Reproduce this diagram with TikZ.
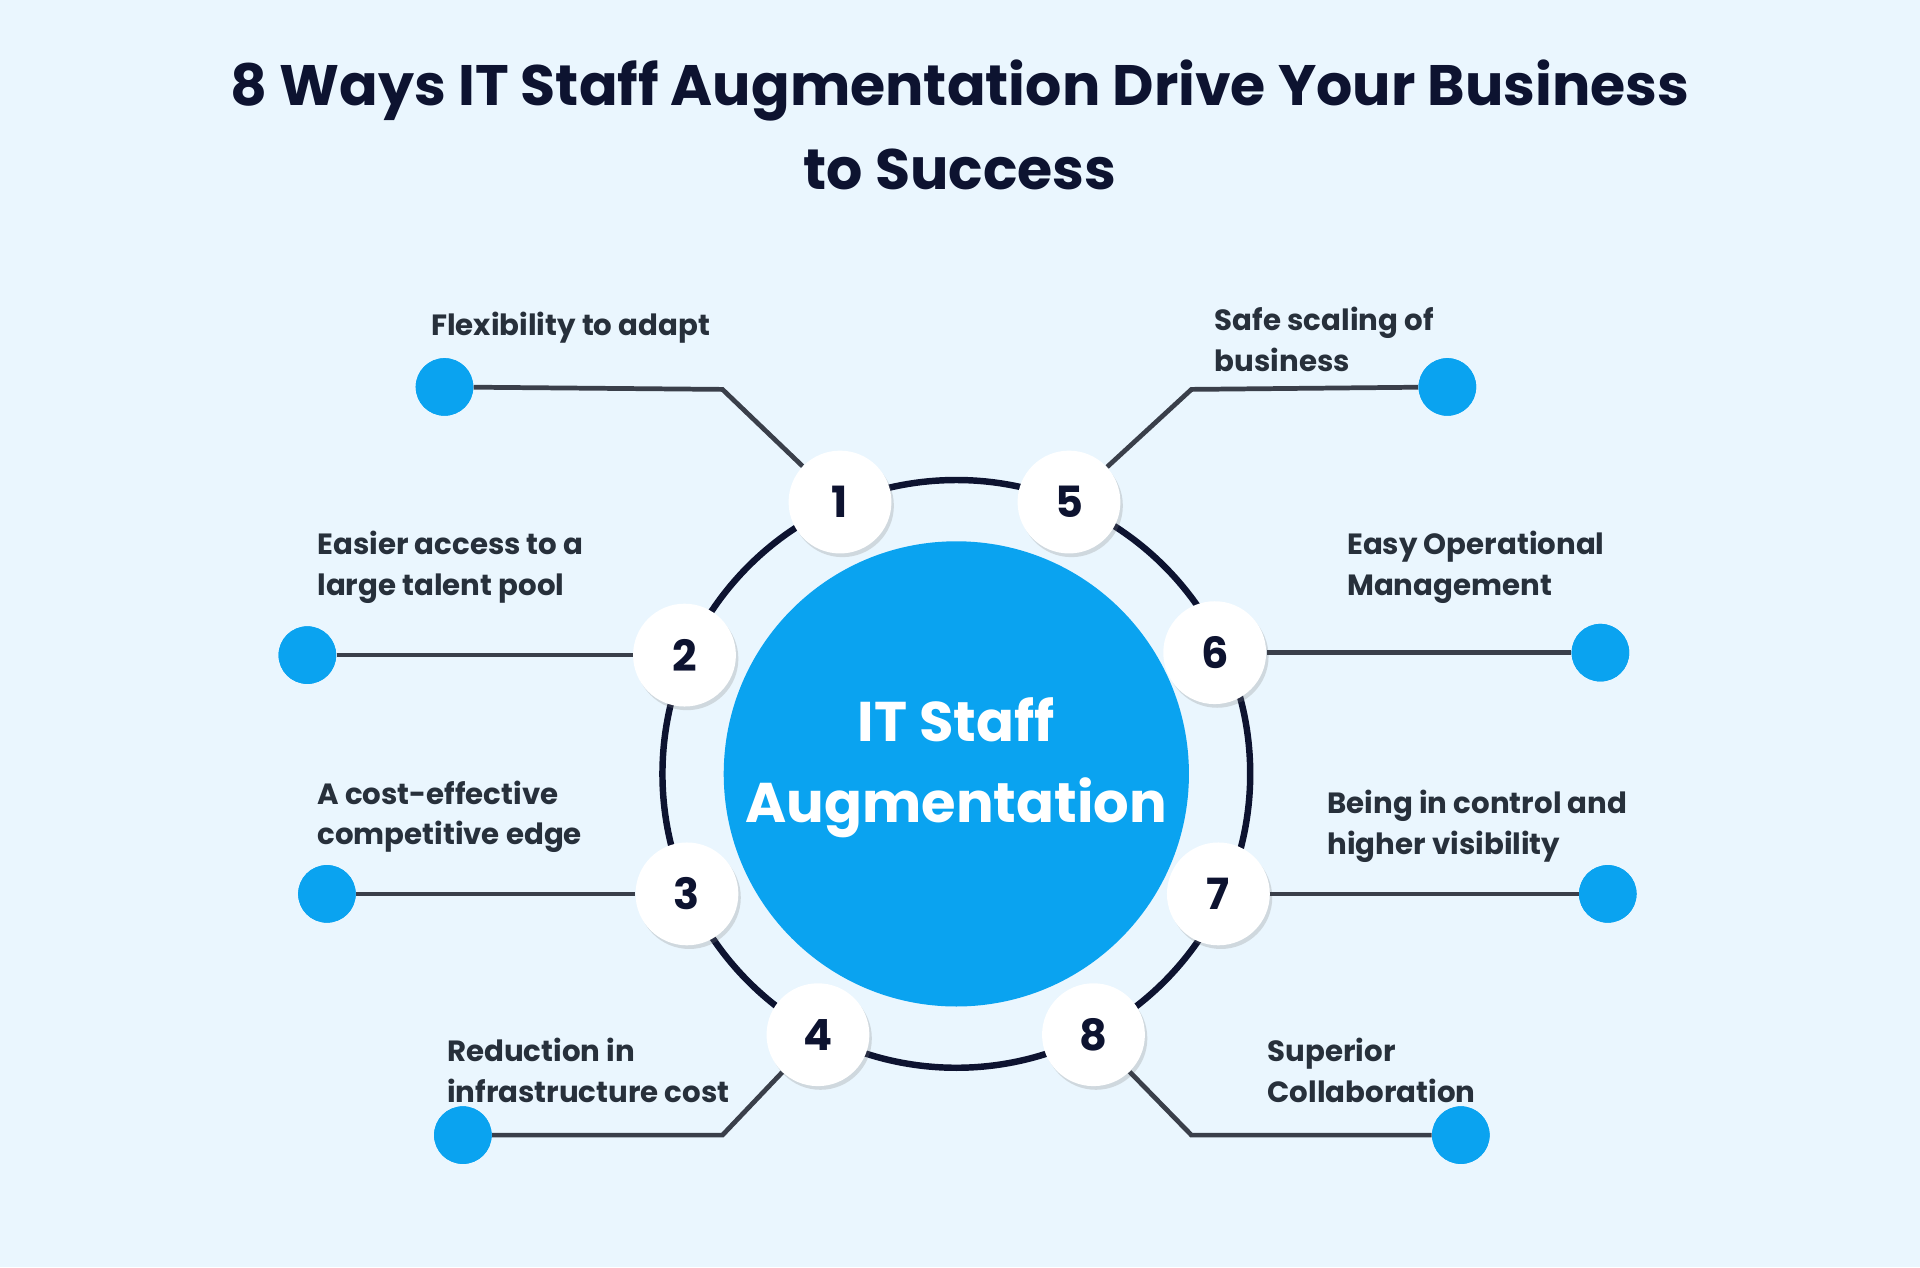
\documentclass[tikz,border=0pt]{standalone}
\usepackage{fontspec}
\setmainfont{Poppins}
\usetikzlibrary{shadows}
\definecolor{bg}{HTML}{EAF6FE}
\definecolor{blue}{HTML}{0AA3F0}
\definecolor{ink}{HTML}{0D1330}
\definecolor{ln}{HTML}{3A3F4A}
\definecolor{txt}{HTML}{27303B}
\tikzset{
  num/.style={circle,fill=white,minimum size=1.68cm,inner sep=0,font=\fontsize{20}{20}\selectfont\bfseries,text=ink,drop shadow={opacity=0.25,shadow xshift=0.04cm,shadow yshift=-0.06cm}},
  dot/.style={circle,fill=blue,minimum size=0.94cm,inner sep=0},
  conn/.style={draw=ln,line width=2.2pt},
  lbl/.style={anchor=west,align=left,font=\fontsize{13.6}{19}\selectfont\bfseries,text=txt}
}
\begin{document}
\begin{tikzpicture}[x=0.02cm,y=-0.02cm]
\fill[bg] (0,0) rectangle (1568,1035);
\useasboundingbox (0,0) rectangle (1568,1035);
\node[font=\fontsize{26.5}{39}\selectfont\bfseries,text=ink,align=center] (title) at (784,102) {8 Ways IT Staff Augmentation Drive Your Business\\to Success};
\draw[line width=3pt,ink] (781,632) circle (240);
\node[circle,fill=blue,minimum size=7.6cm,inner sep=0] (c) at (781,632) {};
\node[align=center,text=white,font=\fontsize{26}{38}\selectfont\bfseries] (ct) at (781,627) {IT Staff\\Augmentation};
\node[dot] (d1) at (363,316) {};
\node[dot] (d5) at (1182,316) {};
\node[dot] (d2) at (251,535) {};
\node[dot] (d6) at (1307,533) {};
\node[dot] (d3) at (267,730) {};
\node[dot] (d7) at (1313,730) {};
\node[dot] (d4) at (378,927) {};
\node[dot] (d8) at (1193,927) {};
\coordinate (k1) at (590,318);
\coordinate (k5) at (973,318);
\coordinate (k4) at (590,927);
\coordinate (k8) at (973,927);
\node[num] (n1) at (686,410) {1};
\node[num] (n5) at (873,410) {5};
\node[num] (n2) at (559,535) {2};
\node[num] (n6) at (992,533) {6};
\node[num] (n3) at (561,730) {3};
\node[num] (n7) at (995,730) {7};
\node[num] (n4) at (668,845) {4};
\node[num] (n8) at (893,845) {8};
\draw[conn] (d1) -- (k1) -- (n1);
\draw[conn] (d5) -- (k5) -- (n5);
\draw[conn] (d2) -- (n2);
\draw[conn] (d6) -- (n6);
\draw[conn] (d3) -- (n3);
\draw[conn] (d7) -- (n7);
\draw[conn] (d4) -- (k4) -- (n4);
\draw[conn] (d8) -- (k8) -- (n8);
\node[dot] at (d1) {};\node[dot] at (d5) {};\node[dot] at (d2) {};\node[dot] at (d6) {};
\node[dot] at (d3) {};\node[dot] at (d7) {};\node[dot] at (d4) {};\node[dot] at (d8) {};
\node[lbl] (l1) at (346,268) {Flexibility to adapt};
\node[lbl] (l5) at (986,277) {Safe scaling of\\business};
\node[lbl] (l2) at (253,463) {Easier access to a\\large talent pool};
\node[lbl] (l6) at (1094,463) {Easy Operational\\Management};
\node[lbl] (l3) at (253,667) {A cost-effective\\competitive edge};
\node[lbl] (l7) at (1078,675) {Being in control and\\higher visibility};
\node[lbl] (l4) at (359,874) {Reduction in\\infrastructure cost};
\node[lbl] (l8) at (1029,874) {Superior\\Collaboration};
\end{tikzpicture}
\end{document}
